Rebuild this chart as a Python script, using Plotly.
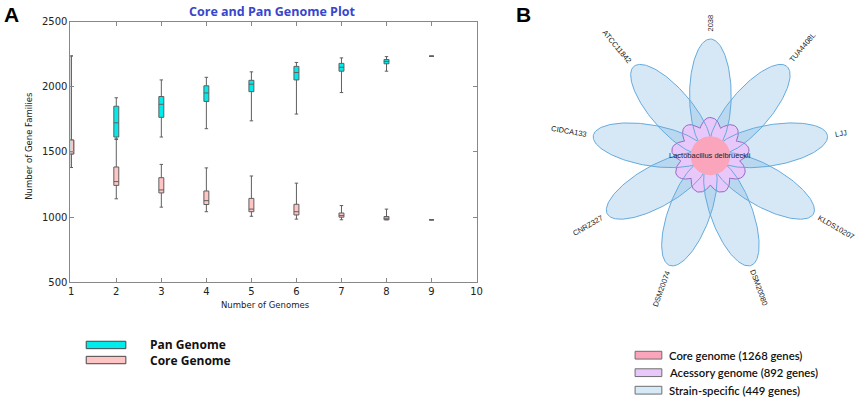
import numpy as np
import plotly.graph_objects as go

W, H = 865, 403

# ---- panel A: core / pan genome box stats ----
genomes = [1, 2, 3, 4, 5, 6, 7, 8, 9]

pan_low = [1380, 1600, 1614, 1678, 1738, 1790, 1955, 2119, 2234]
pan_q1 = [1484, 1614, 1765, 1887, 1962, 2052, 2119, 2176, 2234]
pan_med = [1501, 1723, 1865, 1952, 2019, 2109, 2149, 2194, 2234]
pan_q3 = [1591, 1850, 1925, 2007, 2049, 2156, 2179, 2209, 2234]
pan_high = [2236, 1915, 2052, 2072, 2114, 2186, 2221, 2231, 2234]

core_low = [1380, 1140, 1076, 1041, 1006, 984, 979, 979, 979]
core_q1 = [1484, 1243, 1185, 1096, 1041, 1016, 999, 979, 979]
core_med = [1501, 1272, 1208, 1126, 1061, 1041, 1011, 991, 979]
core_q3 = [1591, 1384, 1302, 1200, 1143, 1098, 1031, 1004, 979]
core_high = [2236, 1595, 1404, 1377, 1315, 1260, 1088, 1061, 979]

# ---- panel B: flower plot ----
strains = ['2038', 'TUA4408L', 'LJJ', 'KLDS10207', 'DSM20080',
           'DSM20074', 'CNRZ327', 'CIDCA133', 'ATCC11842']
species = 'Lactobacillus delbrueckii'
core_genes = 1268
accessory_genes = 892
specific_genes = 449


def px_x(p):
    return p / W


def px_y(p):
    return 1 - p / H


def ellipse(d, a, b, ang_deg, n=160):
    t = np.linspace(0, 2 * np.pi, n)
    ang = np.deg2rad(ang_deg)
    ex = d + a * np.cos(t)
    ey = b * np.sin(t)
    x = ex * np.cos(ang) - ey * np.sin(ang)
    y = ex * np.sin(ang) + ey * np.cos(ang)
    return x, y


def note(x, y, text, size, family, color='#111', **kw):
    d = dict(x=x, y=y, xref='paper', yref='paper', text=text, showarrow=False,
             xanchor='center', yanchor='middle',
             font=dict(family=family, size=size, color=color))
    d.update(kw)
    return d


fig = go.Figure()

box_line = 'rgb(95,95,95)'
fig.add_trace(go.Box(
    x=genomes, q1=pan_q1, median=pan_med, q3=pan_q3,
    lowerfence=pan_low, upperfence=pan_high,
    fillcolor='rgb(0,235,235)', line=dict(color=box_line, width=1),
    width=0.11, whiskerwidth=0.7, name='Pan Genome', hoverinfo='skip'))
fig.add_trace(go.Box(
    x=genomes, q1=core_q1, median=core_med, q3=core_q3,
    lowerfence=core_low, upperfence=core_high,
    fillcolor='rgb(255,196,196)', line=dict(color=box_line, width=1),
    width=0.11, whiskerwidth=0.7, name='Core Genome', hoverinfo='skip'))

# flower geometry (units = pixels around the centre)
n = len(strains)
angles = [90 - 360.0 / n * i for i in range(n)]
petal_d, petal_a, petal_b = 62, 58, 21
lobe_d, lobe_a, lobe_b = 22, 17.5, 11
core_r = 20

for ang in angles:
    x, y = ellipse(petal_d, petal_a, petal_b, ang)
    fig.add_trace(go.Scatter(x=x, y=y, xaxis='x2', yaxis='y2', mode='lines',
                             fill='toself', fillcolor='rgba(120,180,225,0.3)',
                             line=dict(width=0), hoverinfo='skip', showlegend=False))

# accessory: union outline of the small lobes
theta = np.linspace(0, 2 * np.pi, 720)
rs = np.linspace(0, 60, 600)
outer = np.zeros_like(theta)
for k, th in enumerate(theta):
    px = rs * np.cos(th)
    py = rs * np.sin(th)
    inside = np.zeros_like(rs, dtype=bool)
    for ang in angles:
        a = np.deg2rad(ang)
        u = px * np.cos(a) + py * np.sin(a) - lobe_d
        v = -px * np.sin(a) + py * np.cos(a)
        inside |= (u / lobe_a) ** 2 + (v / lobe_b) ** 2 <= 1
    outer[k] = rs[inside].max() if inside.any() else 0
fig.add_trace(go.Scatter(x=outer * np.cos(theta), y=outer * np.sin(theta),
                         xaxis='x2', yaxis='y2', mode='lines', fill='toself',
                         fillcolor='rgb(232,200,250)',
                         line=dict(color='rgb(150,105,195)', width=1),
                         hoverinfo='skip', showlegend=False))

for ang in angles:
    x, y = ellipse(petal_d, petal_a, petal_b, ang)
    fig.add_trace(go.Scatter(x=x, y=y, xaxis='x2', yaxis='y2', mode='lines',
                             line=dict(color='rgb(100,170,220)', width=1),
                             hoverinfo='skip', showlegend=False))

t = np.linspace(0, 2 * np.pi, 120)
fig.add_trace(go.Scatter(x=core_r * np.cos(t), y=core_r * np.sin(t),
                         xaxis='x2', yaxis='y2', mode='lines', fill='toself',
                         fillcolor='rgb(250,165,188)', line=dict(width=0),
                         hoverinfo='skip', showlegend=False))

annotations = []
for name, ang in zip(strains, angles):
    r = 128 + len(name) * 4.2 / 2
    a = np.deg2rad(ang)
    a_norm = ang % 360
    rot = -ang if (a_norm <= 90 or a_norm >= 270) else 180 - ang
    annotations.append(dict(x=r * np.cos(a), y=r * np.sin(a), xref='x2', yref='y2',
                            text=name, showarrow=False, textangle=rot,
                            xanchor='center', yanchor='middle',
                            font=dict(family='Liberation Sans', size=7.5, color='#222')))
annotations.append(dict(x=0, y=0, xref='x2', yref='y2', text=species, showarrow=False,
                        xanchor='center', yanchor='middle',
                        font=dict(family='Liberation Sans', size=7.5, color='#222')))

# titles and panel letters
annotations += [
    note(px_x(273), px_y(7), '<b>Core and Pan Genome Plot</b>', 12.5, 'Open Sans', 'rgb(55,70,205)'),
    note(px_x(27), px_y(145), 'Number of Gene Families', 8.5, 'DejaVu Sans', '#222', textangle=-90),
    note(px_x(266), px_y(308), 'Number of Genomes', 8.5, 'DejaVu Sans', '#222'),
    note(px_x(10), px_y(10), '<b>A</b>', 21, 'Liberation Sans', 'black'),
    note(px_x(526), px_y(10), '<b>B</b>', 21, 'Liberation Sans', 'black'),
]

shapes = []
# legend of panel A
leg_a = [('Pan Genome', 'rgb(0,235,235)', 349.5), ('Core Genome', 'rgb(255,196,196)', 365)]
for label, col, yc in leg_a:
    shapes.append(dict(type='rect', xref='paper', yref='paper', x0=px_x(85), x1=px_x(125),
                       y0=px_y(yc - 3.8), y1=px_y(yc + 3.8), fillcolor=col,
                       line=dict(color='rgb(70,70,70)', width=1)))
    annotations.append(note(px_x(147), px_y(yc), '<b>%s</b>' % label, 12, 'Open Sans',
                            '#111', xanchor='left'))

# legend of panel B
leg_b = [('Core genome (%d genes)' % core_genes, 'rgb(250,165,188)', 360),
         ('Acessory genome (%d genes)' % accessory_genes, 'rgb(232,200,250)', 378),
         ('Strain-specific (%d genes)' % specific_genes, 'rgb(214,233,246)', 396)]
for label, col, yc in leg_b:
    shapes.append(dict(type='rect', xref='paper', yref='paper', x0=px_x(639), x1=px_x(666),
                       y0=px_y(yc - 4), y1=px_y(yc + 4), fillcolor=col,
                       line=dict(color='rgb(110,110,110)', width=1)))
    a = note(px_x(671), px_y(yc), label, 11.3, 'Lato', '#111', xanchor='left')
    a['font']['weight'] = 600
    annotations.append(a)

cx, cy = 715, 155
fig.update_layout(
    width=W, height=H, margin=dict(l=0, r=0, t=0, b=0),
    paper_bgcolor='white', plot_bgcolor='white',
    boxmode='overlay', showlegend=False,
    xaxis=dict(domain=[px_x(69), px_x(479)], range=[0.98, 10], tickmode='array',
               tickvals=list(range(1, 11)), ticks='inside', ticklen=4, tickcolor='#888',
               showline=True, linecolor='#888', mirror='ticks', showgrid=False, zeroline=False,
               tickfont=dict(family='DejaVu Sans', size=10, color='#222')),
    yaxis=dict(domain=[px_y(285), px_y(17)], range=[500, 2500], dtick=500,
               ticks='inside', ticklen=4, tickcolor='#888',
               showline=True, linecolor='#888', mirror='ticks', showgrid=False, zeroline=False,
               tickfont=dict(family='DejaVu Sans', size=10, color='#222')),
    xaxis2=dict(domain=[px_x(519), 1], range=[519 - cx, W - cx], visible=False, anchor='y2'),
    yaxis2=dict(domain=[0, 1], range=[-(H - cy), cy], visible=False, anchor='x2'),
    annotations=annotations, shapes=shapes,
)

# page body has a default 8px margin; drop it so the figure sits at the window corner
fig.write_html("out.html", config={'displayModeBar': False},
               post_script="document.body.style.margin='0';")
